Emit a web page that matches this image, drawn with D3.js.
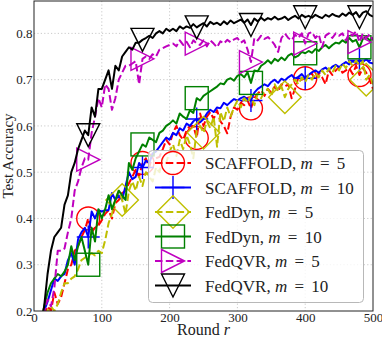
<!DOCTYPE html>
<html>
<head>
<meta charset="utf-8">
<script src="https://cdn.jsdelivr.net/npm/d3@7"></script>
<style>
  body { margin: 0; background: #fff; }
  svg { display: block; }
  text { font-family: "Liberation Serif", "Times New Roman", serif; fill: #222; }
</style>
</head>
<body>
<svg id="chart" width="382" height="339"></svg>
<script>
// rounds are sampled every 5
const rounds = d3.range(0, 501, 5);
const xTicks = [0, 100, 200, 300, 400, 500];
const yTicks = [0.2, 0.3, 0.4, 0.5, 0.6, 0.7, 0.8];

const scaffold5 = [
  0.10,0.13,0.16,0.19,0.21,0.20,0.24,0.215,0.23,0.26,
  0.29,0.30,0.33,0.34,0.36,0.375,0.40,0.37,0.38,0.385,
  0.396,0.41,0.418,0.40,0.433,0.44,0.455,0.46,0.476,0.49,
  0.505,0.49,0.52,0.53,0.51,0.54,0.53,0.533,0.55,0.57,
  0.56,0.585,0.60,0.58,0.57,0.59,0.60,0.60,0.574,0.627,
  0.60,0.62,0.63,0.615,0.634,0.61,0.60,0.584,0.62,0.64,
  0.635,0.65,0.645,0.655,0.638,0.66,0.67,0.677,0.665,0.68,
  0.672,0.685,0.675,0.69,0.685,0.69,0.66,0.68,0.705,0.70,
  0.703,0.71,0.713,0.70,0.715,0.705,0.69,0.72,0.71,0.72,
  0.727,0.715,0.72,0.725,0.712,0.73,0.71,0.725,0.715,0.70,
  0.68];
const scaffold10 = [
  0.10,0.13,0.16,0.20,0.22,0.245,0.27,0.265,0.275,0.28,
  0.31,0.325,0.30,0.355,0.37,0.38,0.36,0.415,0.40,0.418,
  0.415,0.418,0.418,0.455,0.44,0.45,0.44,0.47,0.50,0.485,
  0.49,0.52,0.51,0.525,0.52,0.54,0.545,0.555,0.565,0.575,
  0.57,0.585,0.58,0.595,0.59,0.605,0.60,0.61,0.615,0.608,
  0.615,0.627,0.635,0.63,0.64,0.638,0.65,0.645,0.652,0.658,
  0.655,0.66,0.663,0.658,0.655,0.672,0.68,0.685,0.69,0.686,
  0.695,0.70,0.693,0.702,0.698,0.705,0.71,0.702,0.706,0.712,
  0.703,0.71,0.716,0.72,0.715,0.722,0.726,0.72,0.728,0.732,
  0.727,0.733,0.738,0.733,0.74,0.736,0.742,0.738,0.744,0.737,
  0.735];
const fedDyn5 = [
  0.10,0.12,0.15,0.18,0.20,0.21,0.20,0.215,0.24,0.26,
  0.26,0.27,0.275,0.29,0.31,0.315,0.32,0.325,0.32,0.33,
  0.325,0.353,0.39,0.41,0.44,0.46,0.44,0.41,0.46,0.48,
  0.46,0.49,0.47,0.50,0.49,0.48,0.51,0.50,0.53,0.52,
  0.545,0.56,0.535,0.57,0.55,0.58,0.56,0.53,0.59,0.60,
  0.585,0.61,0.595,0.62,0.555,0.63,0.61,0.64,0.62,0.64,
  0.655,0.64,0.66,0.65,0.665,0.645,0.67,0.66,0.675,0.68,
  0.665,0.69,0.675,0.685,0.662,0.68,0.69,0.70,0.69,0.705,
  0.695,0.71,0.70,0.715,0.705,0.72,0.71,0.725,0.715,0.73,
  0.72,0.735,0.725,0.74,0.73,0.742,0.73,0.74,0.70,0.71,
  0.69];
const fedDyn10 = [
  0.10,0.13,0.17,0.21,0.24,0.26,0.27,0.28,0.275,0.285,
  0.30,0.34,0.31,0.34,0.36,0.33,0.30,0.38,0.35,0.42,
  0.40,0.42,0.45,0.42,0.44,0.46,0.45,0.44,0.52,0.505,
  0.53,0.545,0.56,0.555,0.575,0.57,0.565,0.585,0.59,0.60,
  0.605,0.612,0.605,0.627,0.62,0.615,0.634,0.628,0.66,0.655,
  0.665,0.67,0.675,0.68,0.685,0.692,0.69,0.70,0.703,0.698,
  0.708,0.712,0.705,0.716,0.693,0.72,0.718,0.73,0.735,0.742,
  0.735,0.745,0.74,0.748,0.742,0.752,0.756,0.748,0.752,0.76,
  0.757,0.762,0.758,0.766,0.762,0.77,0.775,0.768,0.775,0.78,
  0.778,0.785,0.78,0.79,0.782,0.786,0.77,0.788,0.792,0.785,
  0.79];
const fedQvr5 = [
  0.10,0.13,0.17,0.20,0.225,0.21,0.25,0.33,0.33,0.335,
  0.37,0.40,0.46,0.48,0.51,0.53,0.527,0.585,0.62,0.66,
  0.64,0.69,0.68,0.635,0.66,0.70,0.715,0.73,0.73,0.735,
  0.74,0.69,0.745,0.75,0.745,0.755,0.75,0.765,0.768,0.772,
  0.775,0.778,0.772,0.785,0.775,0.782,0.77,0.785,0.778,0.775,
  0.785,0.772,0.785,0.778,0.77,0.783,0.778,0.786,0.781,0.787,
  0.79,0.78,0.785,0.765,0.738,0.79,0.785,0.795,0.788,0.792,
  0.785,0.775,0.76,0.79,0.80,0.79,0.785,0.797,0.79,0.80,
  0.778,0.80,0.803,0.79,0.798,0.77,0.795,0.80,0.79,0.80,
  0.795,0.80,0.785,0.80,0.795,0.805,0.781,0.80,0.79,0.798,
  0.785];
const fedQvr10 = [
  0.10,0.13,0.17,0.21,0.28,0.33,0.36,0.37,0.38,0.43,
  0.45,0.50,0.52,0.55,0.57,0.59,0.58,0.64,0.62,0.68,
  0.68,0.70,0.72,0.68,0.73,0.72,0.75,0.76,0.77,0.765,
  0.78,0.78,0.786,0.79,0.795,0.79,0.80,0.805,0.80,0.81,
  0.805,0.81,0.805,0.815,0.81,0.815,0.812,0.82,0.813,0.818,
  0.822,0.815,0.825,0.82,0.823,0.818,0.826,0.82,0.828,0.822,
  0.826,0.83,0.823,0.83,0.818,0.832,0.826,0.834,0.828,0.833,
  0.83,0.836,0.83,0.832,0.836,0.829,0.834,0.838,0.832,0.84,
  0.835,0.838,0.834,0.84,0.836,0.833,0.84,0.836,0.842,0.838,
  0.836,0.843,0.838,0.845,0.84,0.846,0.835,0.845,0.848,0.84,
  0.836];

const series = [
  { name: "SCAFFOLD", m: 5,  values: scaffold5,  color: "#ff0000", dashed: true,  marker: "circle",  markStart: 16, markStep: 16 },
  { name: "SCAFFOLD", m: 10, values: scaffold10, color: "#0000ff", dashed: false, marker: "plus",    markStart: 16, markStep: 16 },
  { name: "FedDyn",   m: 5,  values: fedDyn5,    color: "#bfbf00", dashed: true,  marker: "diamond", markStart: 2,  markStep: 24 },
  { name: "FedDyn",   m: 10, values: fedDyn10,   color: "#008000", dashed: false, marker: "square",  markStart: 16, markStep: 16 },
  { name: "FedQVR",   m: 5,  values: fedQvr5,    color: "#bf00bf", dashed: true,  marker: "right",   markStart: 16, markStep: 16 },
  { name: "FedQVR",   m: 10, values: fedQvr10,   color: "#000000", dashed: false, marker: "down",    markStart: 16, markStep: 16 }
];

const svg = d3.select("#chart");
const pl = 34, pr = 373, pt = 1, pb = 311;
const x = d3.scaleLinear().domain([0, 500]).range([pl, pr]);
const y = d3.scaleLinear().domain([0.2, 0.87]).range([pb, pt]);
const markSize = 23;

svg.append("defs").append("clipPath").attr("id", "plot")
  .append("rect").attr("x", pl).attr("y", pt)
  .attr("width", pr - pl).attr("height", pb - pt);

// grid
const grid = svg.append("g").attr("stroke", "#c4c4c4").attr("stroke-width", 0.9)
  .attr("stroke-dasharray", "1.2,2.2");
grid.selectAll(".gx").data(xTicks.slice(1, -1)).enter().append("line")
  .attr("x1", d => x(d)).attr("x2", d => x(d)).attr("y1", pt).attr("y2", pb);
grid.selectAll(".gy").data(yTicks.slice(1)).enter().append("line")
  .attr("y1", d => y(d)).attr("y2", d => y(d)).attr("x1", pl).attr("x2", pr);

function marker(g, type, cx, cy, color) {
  const h = markSize / 2;
  let el;
  if (type === "circle") {
    el = g.append("circle").attr("cx", cx).attr("cy", cy).attr("r", h);
  } else if (type === "plus") {
    el = g.append("path").attr("d", `M${cx - h},${cy}H${cx + h}M${cx},${cy - h}V${cy + h}`);
  } else if (type === "diamond") {
    const d = h * Math.SQRT2;
    el = g.append("path").attr("d", `M${cx},${cy - d}L${cx + d},${cy}L${cx},${cy + d}L${cx - d},${cy}Z`);
  } else if (type === "square") {
    el = g.append("rect").attr("x", cx - h).attr("y", cy - h).attr("width", 2 * h).attr("height", 2 * h);
  } else if (type === "right") {
    el = g.append("path").attr("d", `M${cx + h},${cy}L${cx - h},${cy - h}L${cx - h},${cy + h}Z`);
  } else {
    el = g.append("path").attr("d", `M${cx},${cy + h}L${cx - h},${cy - h}L${cx + h},${cy - h}Z`);
  }
  el.attr("fill", "none").attr("stroke", color).attr("stroke-width", 1.4);
}

const line = d3.line().x((d, i) => x(rounds[i])).y(d => y(d));
const plot = svg.append("g").attr("clip-path", "url(#plot)");

series.forEach(s => {
  plot.append("path")
    .attr("d", line(s.values))
    .attr("fill", "none")
    .attr("stroke", s.color)
    .attr("stroke-width", 2)
    .attr("stroke-linejoin", "round")
    .attr("stroke-dasharray", s.dashed ? "7.5,3.3" : null);
  const mg = plot.append("g");
  for (let i = s.markStart; i < s.values.length; i += s.markStep) {
    marker(mg, s.marker, x(rounds[i]), y(s.values[i]), s.color);
  }
});

// axes
const xAxis = svg.append("g").attr("transform", `translate(0,${pb})`)
  .call(d3.axisBottom(x).tickValues(xTicks).tickSize(0).tickPadding(1.5).tickFormat(d3.format("d")));
const yAxis = svg.append("g").attr("transform", `translate(${pl},0)`)
  .call(d3.axisLeft(y).tickValues(yTicks).tickSize(0).tickPadding(1.5).tickFormat(d3.format(".1f")));
[xAxis, yAxis].forEach(a => {
  a.select(".domain").remove();
  a.selectAll("text").attr("font-family", null).attr("font-size", 13).attr("fill", "#222");
});

svg.append("rect").attr("x", pl).attr("y", pt).attr("width", pr - pl).attr("height", pb - pt)
  .attr("fill", "none").attr("stroke", "#222").attr("stroke-width", 1);

svg.append("text").attr("x", (pl + pr) / 2).attr("y", 334.5).attr("text-anchor", "middle")
  .attr("font-size", 16)
  .call(t => { t.append("tspan").text("Round "); t.append("tspan").attr("font-style", "italic").text("r"); });

svg.append("text").attr("transform", `translate(13,${(pt + pb) / 2}) rotate(-90)`)
  .attr("text-anchor", "middle").attr("font-size", 15).text("Test Accuracy");

// legend
const leg = svg.append("g");
leg.append("rect").attr("x", 148.5).attr("y", 150.5).attr("width", 215).attr("height", 152).attr("rx", 4)
  .attr("fill", "#fff").attr("fill-opacity", 0.8).attr("stroke", "#b8b8b8").attr("stroke-width", 1);
series.forEach((s, i) => {
  const cy = 163 + i * 24.5;
  leg.append("line").attr("x1", 155).attr("x2", 191).attr("y1", cy).attr("y2", cy)
    .attr("stroke", s.color).attr("stroke-width", 2)
    .attr("stroke-dasharray", s.dashed ? "7.5,3.3" : null);
  marker(leg, s.marker, 173, cy, s.color);
  const t = leg.append("text").attr("x", 205).attr("y", cy + 6).attr("font-size", 17);
  t.append("tspan").text(s.name + ", ");
  t.append("tspan").attr("font-style", "italic").text("m");
  t.append("tspan").attr("dx", 3).text(" = ");
  t.append("tspan").attr("dx", 3).text(s.m);
});
</script>
</body>
</html>
